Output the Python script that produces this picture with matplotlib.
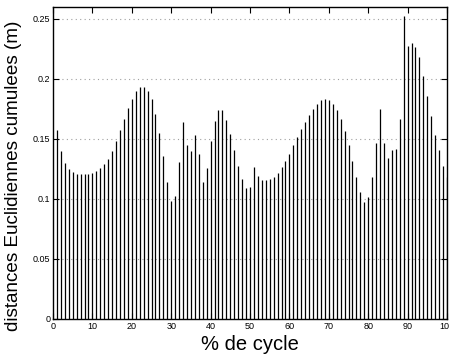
import numpy as np
import matplotlib.pyplot as plt
from matplotlib.ticker import FuncFormatter

# % of cycle (one stem per percent)
cycle = np.arange(1, 101)

# cumulated euclidean distances (m)
dist = [
    0.1575, 0.140, 0.130, 0.125, 0.1222, 0.1210, 0.1207, 0.1207, 0.1210, 0.1220,
    0.1233, 0.1255, 0.1288, 0.1335, 0.1403, 0.1482, 0.1575, 0.1667, 0.1758, 0.1835,
    0.1898, 0.1932, 0.1936, 0.1902, 0.1832, 0.1707, 0.1547, 0.1356, 0.1143, 0.0980,
    0.1025, 0.1306, 0.1639, 0.1450, 0.1397, 0.1536, 0.1372, 0.1144, 0.1258, 0.1480,
    0.1650, 0.1740, 0.1740, 0.1660, 0.1545, 0.1410, 0.1275, 0.1164, 0.1090, 0.1100,
    0.1264, 0.1190, 0.1158, 0.1158, 0.1167, 0.1186, 0.1220, 0.1264, 0.1317, 0.1378,
    0.1446, 0.1514, 0.1580, 0.1640, 0.1700, 0.1753, 0.1792, 0.1823, 0.1831, 0.1822,
    0.1792, 0.1740, 0.1666, 0.1567, 0.1447, 0.1318, 0.1183, 0.1056, 0.0972, 0.1014,
    0.1186, 0.1470, 0.1747, 0.1470, 0.1339, 0.1410, 0.1415, 0.1664, 0.2525, 0.2272,
    0.2303, 0.2267, 0.2180, 0.2028, 0.1858, 0.1692, 0.1530, 0.1411, 0.1272, 0.1180,
]

xticks = np.arange(0, 101, 10)
yticks = [0, 0.05, 0.1, 0.15, 0.2, 0.25]

plt.rcParams['font.family'] = ['Liberation Sans', 'DejaVu Sans']

fig = plt.figure(figsize=(4.49, 3.58), dpi=100)
ax = fig.add_axes([53/449, 1 - 319/358, (447 - 53)/449, (319 - 7)/358])

ax.vlines(cycle, 0, dist, color='k', linewidth=0.9)

ax.set_xlim(0, 100)
ax.set_ylim(0, 0.26)
ax.set_xticks(xticks)
ax.set_yticks(yticks)
ax.yaxis.set_major_formatter(FuncFormatter(lambda v, p: ('%g' % v)))

for v in yticks[1:]:
    ax.axhline(v, color='#a0a0a0', linestyle=(0, (1, 3)), linewidth=0.8, zorder=0)

ax.tick_params(direction='in', length=4, width=0.8, labelsize=6.5,
               top=True, right=True, pad=2)
for s in ax.spines.values():
    s.set_linewidth(1.0)

ax.set_xlabel('% de cycle', fontsize=14.5, labelpad=3)
ax.set_ylabel('distances Euclidiennes cumulees (m)', fontsize=13.6)
ax.yaxis.set_label_coords(-0.078, 0.458)

fig.savefig('out.png', dpi=100)
